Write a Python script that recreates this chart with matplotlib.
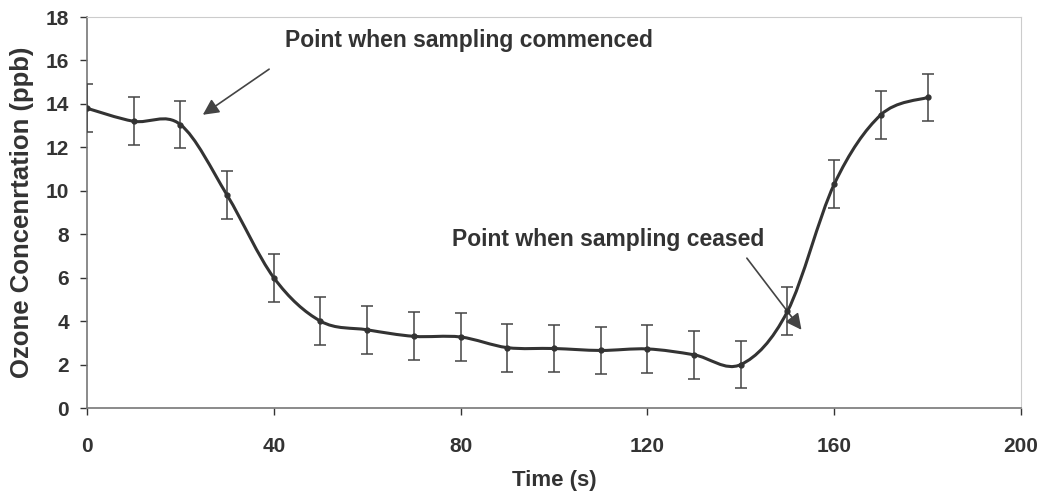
import matplotlib.pyplot as plt
import numpy as np
from matplotlib.path import Path
from matplotlib.patches import PathPatch

plt.rcParams['font.family'] = ['Liberation Sans', 'DejaVu Sans']
plt.rcParams['font.weight'] = 'bold'

# data
time_s = [0, 10, 20, 30, 40, 50, 60, 70, 80, 90, 100, 110, 120, 130, 140, 150, 160, 170, 180]
ozone_ppb = [13.8, 13.2, 13.05, 9.8, 6.0, 4.0, 3.6, 3.3, 3.27, 2.78, 2.74, 2.65, 2.72, 2.45, 2.0,
             4.45, 10.3, 13.5, 14.3]
ozone_err = [1.1] * len(time_s)

x_ticks = [0, 40, 80, 120, 160, 200]
y_ticks = [0, 2, 4, 6, 8, 10, 12, 14, 16, 18]

dark = '#333333'


def smooth_path(x, y):
    # Excel style smoothed line: cubic bezier segments through every point
    x = np.asarray(x, float)
    y = np.asarray(y, float)
    verts = [(x[0], y[0])]
    codes = [Path.MOVETO]
    n = len(x)
    for i in range(n - 1):
        x0, y0 = (x[i - 1], y[i - 1]) if i > 0 else (x[i], y[i])
        x3, y3 = (x[i + 2], y[i + 2]) if i + 2 < n else (x[i + 1], y[i + 1])
        c1 = (x[i] + (x[i + 1] - x0) / 6, y[i] + (y[i + 1] - y0) / 6)
        c2 = (x[i + 1] - (x3 - x[i]) / 6, y[i + 1] - (y3 - y[i]) / 6)
        verts += [c1, c2, (x[i + 1], y[i + 1])]
        codes += [Path.CURVE4] * 3
    return Path(verts, codes)


fig = plt.figure(figsize=(10.52, 5.01), dpi=100)
ax = fig.add_axes([0.0827, 0.1856, 0.8878, 0.7804])

ax.add_patch(PathPatch(smooth_path(time_s, ozone_ppb), facecolor='none',
                       edgecolor=dark, linewidth=2.2, zorder=3))
ax.errorbar(time_s, ozone_ppb, yerr=ozone_err, fmt='o', color=dark, markersize=3.5,
            ecolor='#444444', elinewidth=1.1, capsize=4, capthick=1.1, zorder=4)

ax.set_xlim(0, 200)
ax.set_ylim(0, 18)
ax.set_xticks(x_ticks)
ax.set_yticks(y_ticks)
ax.tick_params(axis='both', labelsize=15, colors=dark, length=5, width=1, direction='out')
ax.tick_params(axis='x', pad=16)
ax.tick_params(axis='y', pad=8)
for lab in ax.get_xticklabels() + ax.get_yticklabels():
    lab.set_fontweight('bold')
    lab.set_color('#333333')

for s in ['left', 'bottom']:
    ax.spines[s].set_color('#777777')
    ax.spines[s].set_linewidth(1.2)
for s in ['top', 'right']:
    ax.spines[s].set_color('#cccccc')
    ax.spines[s].set_linewidth(0.8)

ax.set_xlabel('Time (s)', fontsize=16, fontweight='bold', color=dark, labelpad=10)
ax.set_ylabel('Ozone Concenrtation (ppb)', fontsize=18.5, fontweight='bold', color=dark, labelpad=8)

arrow = dict(arrowstyle='-|>', color='#444444', lw=1.2, mutation_scale=24, shrinkA=0, shrinkB=0)
ax.annotate('', xy=(24.8, 13.5), xytext=(39.0, 15.6), arrowprops=arrow)
ax.text(42.3, 16.9, 'Point when sampling commenced', fontsize=16.5, fontweight='bold',
        color=dark, va='center', ha='left')

ax.annotate('', xy=(153.0, 3.6), xytext=(141.3, 6.9), arrowprops=arrow)
ax.text(78.2, 7.75, 'Point when sampling ceased', fontsize=16.5, fontweight='bold',
        color=dark, va='center', ha='left')

fig.savefig('out.png', dpi=100)
